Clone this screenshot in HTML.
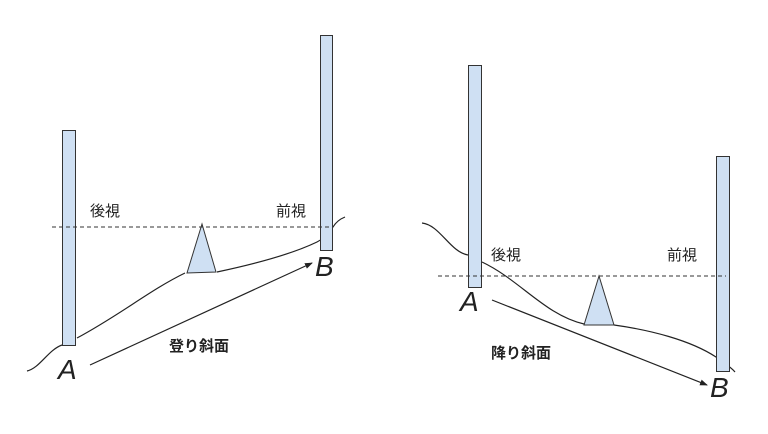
<!DOCTYPE html>
<html><head><meta charset="utf-8"><style>
html,body{margin:0;padding:0;background:#fff;width:768px;height:434px;overflow:hidden}
text{font-family:"Liberation Sans","Noto Sans CJK JP",sans-serif}
</style></head><body>
<svg width="768" height="434" viewBox="0 0 768 434" xmlns="http://www.w3.org/2000/svg">
<defs><marker id="ah" markerWidth="8" markerHeight="8" refX="7" refY="4" orient="auto" markerUnits="userSpaceOnUse"><path d="M0,1 L8,4 L0,7 z" fill="#222"/></marker></defs>
<g fill="none" stroke="#222" stroke-width="1.2">
<path d="M27,371 C40,368 48,350 62,345"/>
<path d="M77,338 C120,315 150,290 185,273"/>
<path d="M217,272 C250,265 290,255 317,242 C325,238 330,232 333,227 C336,222 340,219 345,217"/>
<path d="M422,223 C440,225 450,252 468,255"/>
<path d="M482,262 C520,280 545,315 584,324"/>
<path d="M614,325 C650,330 690,340 716,357 C722,362 730,366 735,372"/>
<path d="M90,365 L312,263" marker-end="url(#ah)"/>
<path d="M492,300 L707,385" marker-end="url(#ah)"/>
</g>
<g fill="#cfe0f3" stroke="#333" stroke-width="1">
<rect x="62.5" y="130.5" width="13" height="215"/>
<rect x="320.5" y="35.5" width="12" height="215"/>
<rect x="468.5" y="65.5" width="13" height="222"/>
<rect x="716.5" y="156.5" width="13" height="215"/>
<path d="M202,224 L187,273 L216,272 Z"/>
<path d="M599,276 L584,325 L614,325 Z"/>
</g>
<g stroke="#333" stroke-width="1" stroke-dasharray="4,3">
<line x1="52" y1="227" x2="333" y2="227"/>
<line x1="438" y1="276" x2="726" y2="276"/>
</g>
<g fill="#222" font-size="15">
<text x="90" y="216">後視</text>
<text x="276" y="216">前視</text>
<text x="491" y="260">後視</text>
<text x="667" y="260">前視</text>
<text x="169" y="351" font-weight="bold">登り斜面</text>
<text x="491" y="358" font-weight="bold">降り斜面</text>
</g>
<g fill="#222" font-size="28" font-style="italic">
<text x="58" y="379">A</text>
<text x="315" y="276">B</text>
<text x="460" y="311">A</text>
<text x="710" y="397">B</text>
</g>
</svg>
</body></html>
